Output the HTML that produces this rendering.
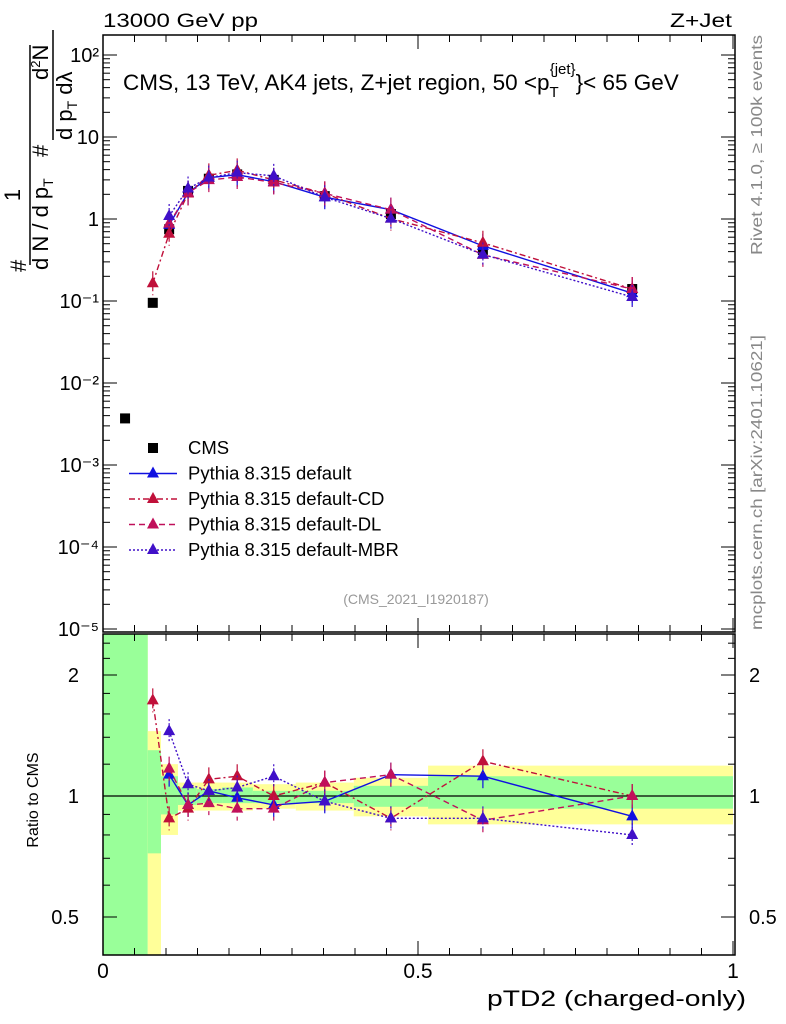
<!DOCTYPE html>
<html><head><meta charset="utf-8"><style>
body{margin:0;background:#fff;}
svg{display:block;font-family:"Liberation Sans",sans-serif;}
</style></head><body>
<svg id="chart" width="786" height="1024" viewBox="0 0 786 1024">
<g id="bands"></g>
<g id="frames"></g>
<g id="series"></g>
<g id="texts">
<text x="103" y="27" font-size="19" textLength="155" lengthAdjust="spacingAndGlyphs">13000 GeV pp</text>
<text x="670" y="27" font-size="19" textLength="62" lengthAdjust="spacingAndGlyphs">Z+Jet</text>
<text x="123" y="90" font-size="22.5">CMS, 13 TeV, AK4 jets, Z+jet region, 50 &lt;p<tspan font-size="15" dy="7">T</tspan><tspan font-size="15" dy="-23" dx="-9">{jet}</tspan><tspan dy="16">}&lt; 65 GeV</tspan></text>
<text x="416" y="604" font-size="14" fill="#999" text-anchor="middle">(CMS_2021_I1920187)</text>
<text transform="translate(762,255) rotate(-90)" font-size="16" fill="#888" textLength="220" lengthAdjust="spacingAndGlyphs">Rivet 4.1.0, ≥ 100k events</text>
<text transform="translate(762,630) rotate(-90)" font-size="16" fill="#888" textLength="295" lengthAdjust="spacingAndGlyphs">mcplots.cern.ch [arXiv:2401.10621]</text>
<text transform="translate(38,800) rotate(-90)" font-size="16" text-anchor="middle">Ratio to CMS</text>
<text x="487" y="1006" font-size="22" textLength="259" lengthAdjust="spacingAndGlyphs">pTD2 (charged-only)</text>
<g font-size="22">
<text transform="translate(26,272) rotate(-90)">#</text>
<text transform="translate(20,195) rotate(-90)" text-anchor="middle">1</text>
<line x1="30" y1="265" x2="30" y2="45" stroke="#000" stroke-width="1.5"/>
<text transform="translate(48,270) rotate(-90)">d N / d p<tspan font-size="14" dy="5">T</tspan></text>
<text transform="translate(48,157) rotate(-90)">#</text>
<text transform="translate(48,80) rotate(-90)">d<tspan font-size="13" dy="-8">2</tspan><tspan dy="8">N</tspan></text>
<line x1="53" y1="140" x2="53" y2="30" stroke="#000" stroke-width="1.5"/>
<text transform="translate(72,140) rotate(-90)">d p<tspan font-size="14" dy="5">T</tspan><tspan dy="-5"> dλ</tspan></text>
</g>
</g>
<g id="legend"></g>
</svg>
<script>
const NS="http://www.w3.org/2000/svg";
// data
const xCMS=[0.035,0.079,0.105,0.135,0.168,0.213,0.271,0.352,0.457,0.603,0.840];
const yCMS=[0.0037,0.095,0.75,2.2,3.1,3.5,3.0,1.9,1.15,0.42,0.14];
const xMC=[0.079,0.105,0.135,0.168,0.213,0.271,0.352,0.457,0.603,0.840];
const rDefault=[null,1.13,0.95,1.03,0.99,0.95,0.97,1.13,1.12,0.89];
const rCD=[1.73,0.88,0.93,1.10,1.12,1.00,1.08,0.88,1.22,1.00];
const rDL=[null,1.17,0.95,0.96,0.93,0.93,1.08,1.13,0.87,1.00];
const rMBR=[null,1.45,1.07,1.03,1.05,1.12,0.97,0.88,0.88,0.80];
const binEdges=[0,0.071,0.092,0.119,0.149,0.189,0.238,0.306,0.398,0.516,1.0];
const statLo=[0.3,0.72,0.90,0.95,0.96,0.96,0.96,0.96,0.94,0.93];
const statHi=[3,1.30,1.12,1.05,1.04,1.05,1.03,1.03,1.06,1.12];
const totLo=[0.3,0.40,0.80,0.92,0.92,0.92,0.93,0.92,0.89,0.85];
const totHi=[3,1.45,1.20,1.08,1.08,1.08,1.07,1.08,1.11,1.19];
const xTicks=[0,0.5,1];
const xTickLabels=["0","0.5","1"];

const X0=103,X1=733,FT=35,FB=632,RT=634,RB=955;
const sx=v=>X0+(X1-X0)*v;
const sy=v=>219-82*Math.log10(v);
const sr=v=>Math.max(RT,Math.min(RB,796-121*Math.log2(v)));
function mk(tag,attrs,parent){const e=document.createElementNS(NS,tag);for(const k in attrs)e.setAttribute(k,attrs[k]);parent.appendChild(e);return e;}
const bands=document.getElementById('bands'),frames=document.getElementById('frames'),series=document.getElementById('series'),legend=document.getElementById('legend');

for(let i=0;i<binEdges.length-1;i++){
 const y=mk('rect',{x:sx(binEdges[i]),y:sr(totHi[i]),width:sx(binEdges[i+1])-sx(binEdges[i]),height:sr(totLo[i])-sr(totHi[i]),fill:'#ffff99'},bands);
 
 
 const g=mk('rect',{x:sx(binEdges[i]),y:sr(statHi[i]),width:sx(binEdges[i+1])-sx(binEdges[i]),height:sr(statLo[i])-sr(statHi[i]),fill:'#99ff99'},bands);
 
 
}
mk('rect',{x:X0,y:FT,width:X1-X0+2,height:FB-FT,fill:'none',stroke:'#000','stroke-width':1.5},frames);
mk('rect',{x:X0,y:RT,width:X1-X0+2,height:RB-RT,fill:'none',stroke:'#000','stroke-width':1.5},frames);
mk('line',{x1:X0,x2:X1+2,y1:796,y2:796,stroke:'#000','stroke-width':1.2},frames);
const decLab={2:"10²",1:"10",0:"1","-1":"10⁻¹","-2":"10⁻²","-3":"10⁻³","-4":"10⁻⁴","-5":"10⁻⁵"};
for(let d=-5;d<=2;d++){
 const y=sy(Math.pow(10,d));
 mk('line',{x1:X0,x2:X0+14,y1:y,y2:y,stroke:'#000'},frames);
 mk('line',{x1:X1+2,x2:X1-12,y1:y,y2:y,stroke:'#000'},frames);
 const t=mk('text',{x:X0-4,y:y+7,'font-size':20,'text-anchor':'end'},frames);t.textContent=decLab[d];
 
 
 if(d<2)for(let m=2;m<10;m++){const yy=sy(m*Math.pow(10,d));if(yy<FT)continue;
  mk('line',{x1:X0,x2:X0+7,y1:yy,y2:yy,stroke:'#000'},frames);mk('line',{x1:X1+2,x2:X1-5,y1:yy,y2:yy,stroke:'#000'},frames);}
}
[[0.5,"0.5"],[1,"1"],[2,"2"]].forEach(([v,l])=>{const y=sr(v);
 mk('line',{x1:X0,x2:X0+14,y1:y,y2:y,stroke:'#000'},frames);mk('line',{x1:X1+2,x2:X1-12,y1:y,y2:y,stroke:'#000'},frames);
 const a=mk('text',{x:X0-24,y:y+7,'font-size':20,'text-anchor':'end'},frames);a.textContent=l;
 const b=mk('text',{x:X1+16,y:y+7,'font-size':20},frames);b.textContent=l;});
[0.6,0.7,0.8,0.9,1.2,1.4,1.6,1.8,2.2,2.4].forEach(v=>{const y=sr(v);mk('line',{x1:X0,x2:X0+7,y1:y,y2:y,stroke:'#000'},frames);mk('line',{x1:X1+2,x2:X1-5,y1:y,y2:y,stroke:'#000'},frames);});
for(let i=0;i<=20;i++){const v=i/20,x=sx(v),L=(i%10==0)?14:7;
 [[FT,1],[FB,-1],[RT,1],[RB,-1]].forEach(([y,s])=>mk('line',{x1:x,x2:x,y1:y,y2:y+s*L,stroke:'#000'},frames));}
xTicks.forEach((v,i)=>{const t=mk('text',{x:sx(v),y:978,'font-size':21,'text-anchor':'middle'},frames);t.textContent=xTickLabels[i];
 
 });

function tri(x,y,c,p){mk('path',{d:`M${x},${y-7}L${x+6},${y+4}L${x-6},${y+4}Z`,fill:c},p);}
const defs=[
 {name:'default',r:rDefault,c:'#1010e0',dash:''},
 {name:'default-CD',r:rCD,c:'#c0103a',dash:'6,3,2,3'},
 {name:'default-DL',r:rDL,c:'#c0105a',dash:'6,4'},
 {name:'default-MBR',r:rMBR,c:'#4010c8',dash:'2,2'}];
xCMS.forEach((v,i)=>{const r=mk('rect',{x:sx(v)-5,y:sy(yCMS[i])-5,width:10,height:10,fill:'#000'},series);
 
 });
defs.forEach(d=>{
 const g=mk('g',{},series);
 
 
 let pt=[],pr=[];
 xMC.forEach((v,i)=>{if(d.r[i]==null)return;const j=xCMS.indexOf(v);
  pt.push([sx(v),sy(yCMS[j]*d.r[i])]);pr.push([sx(v),sr(d.r[i])]);});
 [pt,pr].forEach(P=>{mk('polyline',{points:P.map(p=>p.join(',')).join(' '),fill:'none',stroke:d.c,'stroke-width':1.4,'stroke-dasharray':d.dash},g);
  P.forEach(p=>{mk('line',{x1:p[0],x2:p[0],y1:p[1]-12,y2:p[1]+12,stroke:d.c,'stroke-width':1.2,'stroke-dasharray':d.dash},g);tri(p[0],p[1],d.c,g);});});
});
const lg=[['CMS','#000',null,''],['Pythia 8.315 default','#1010e0',1,''],['Pythia 8.315 default-CD','#c0103a',1,'6,3,2,3'],['Pythia 8.315 default-DL','#c0105a',1,'6,4'],['Pythia 8.315 default-MBR','#4010c8',1,'2,2']];
lg.forEach((e,i)=>{const y=448+i*25.5;const g=mk('g',{},legend);
 
 
 if(e[2]){mk('line',{x1:129,x2:177,y1:y,y2:y,stroke:e[1],'stroke-width':1.4,'stroke-dasharray':e[3]},g);tri(153,y,e[1],g);}
 else mk('rect',{x:148,y:y-5,width:10,height:10,fill:'#000'},g);
 const t=mk('text',{x:188,y:y+6,'font-size':18.5},g);t.textContent=e[0];});
</script>
</body></html>
